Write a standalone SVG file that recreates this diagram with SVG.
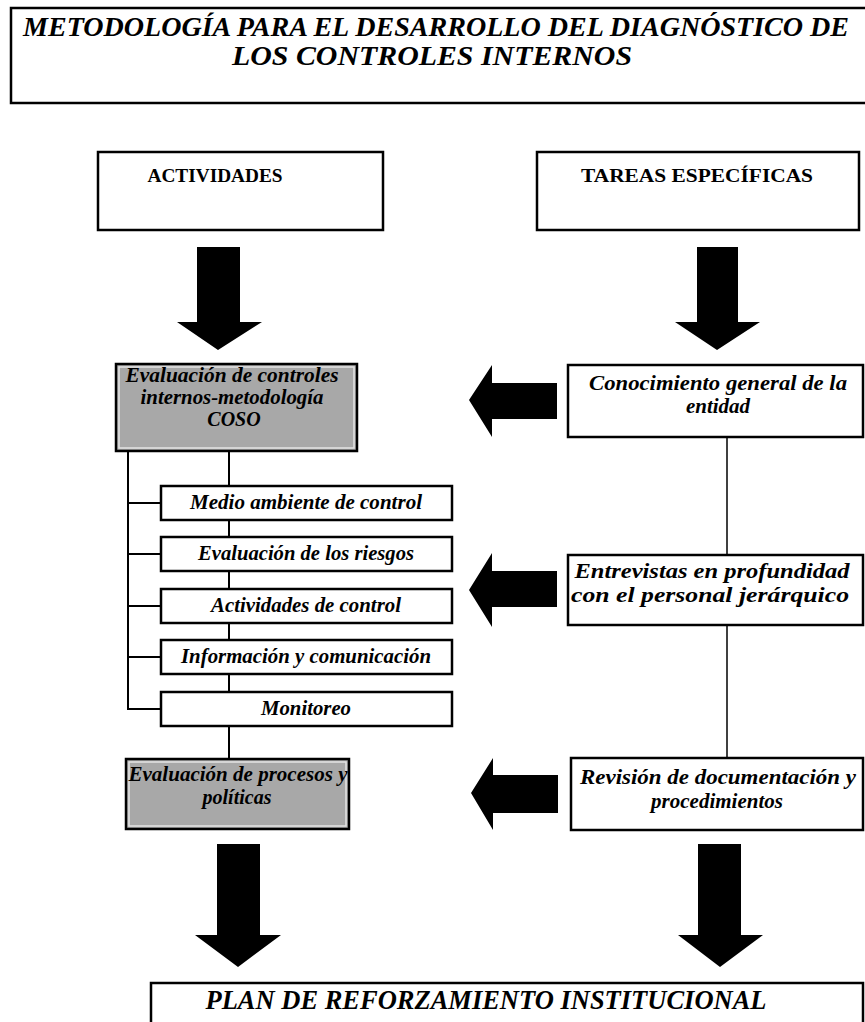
<svg xmlns="http://www.w3.org/2000/svg" width="865" height="1022" viewBox="0 0 865 1022">
<style>
.box{fill:#fff;stroke:#000;stroke-width:2.5}
.gray{fill:#a8a8a8;stroke:#000;stroke-width:2.5}
.inner{fill:none;stroke:#e4e4e4;stroke-width:1.5}
.t{font-family:"Liberation Serif","Times New Roman",serif;font-weight:bold;font-style:italic;font-size:20px;text-anchor:middle;fill:#000}
.h{font-style:normal;font-size:18px}
.big{font-size:28px}
.rt{font-size:21px}
.conn line{stroke:#000;stroke-width:2}
.conn line.thin{stroke-width:1.5}
.arrow{fill:#000}
</style>
<rect width="865" height="1022" fill="#fff"/>

<g id="title">
<rect class="box" x="11" y="8" width="870" height="95"/>
<text class="t big" x="436" y="36" textLength="826" lengthAdjust="spacingAndGlyphs">METODOLOGÍA PARA EL DESARROLLO DEL DIAGNÓSTICO DE</text>
<text class="t big" x="432" y="65" textLength="400" lengthAdjust="spacingAndGlyphs">LOS CONTROLES INTERNOS</text>
</g>

<g id="actividades">
<rect class="box" x="98" y="152" width="285" height="78"/>
<text class="t h" x="215" y="182" textLength="135" lengthAdjust="spacingAndGlyphs">ACTIVIDADES</text>
</g>

<g id="tareas">
<rect class="box" x="537" y="152" width="322" height="78"/>
<text class="t h" x="697" y="182" textLength="232" lengthAdjust="spacingAndGlyphs">TAREAS ESPECÍFICAS</text>
</g>

<g id="coso">
<rect class="gray" x="116" y="364" width="241" height="87"/>
<rect class="inner" x="119" y="367" width="235" height="81"/>
<text class="t" x="232" y="382" textLength="213" lengthAdjust="spacingAndGlyphs">Evaluación de controles</text>
<text class="t" x="232" y="404" textLength="183" lengthAdjust="spacingAndGlyphs">internos-metodología</text>
<text class="t" x="234" y="426">COSO</text>
</g>

<g id="medio">
<rect class="box" x="161" y="486" width="291" height="34"/>
<text class="t" x="306" y="509" textLength="232" lengthAdjust="spacingAndGlyphs">Medio ambiente de control</text>
</g>
<g id="riesgos">
<rect class="box" x="161" y="537" width="291" height="34"/>
<text class="t" x="306" y="560" textLength="216" lengthAdjust="spacingAndGlyphs">Evaluación de los riesgos</text>
</g>
<g id="actividades-control">
<rect class="box" x="161" y="589" width="291" height="34"/>
<text class="t" x="306" y="612" textLength="190" lengthAdjust="spacingAndGlyphs">Actividades de control</text>
</g>
<g id="informacion">
<rect class="box" x="161" y="640" width="291" height="34"/>
<text class="t" x="306" y="663" textLength="250" lengthAdjust="spacingAndGlyphs">Información y comunicación</text>
</g>
<g id="monitoreo">
<rect class="box" x="161" y="692" width="291" height="34"/>
<text class="t" x="306" y="715" textLength="90" lengthAdjust="spacingAndGlyphs">Monitoreo</text>
</g>

<g id="procesos">
<rect class="gray" x="126" y="759" width="223" height="70"/>
<rect class="inner" x="129" y="762" width="217" height="64"/>
<text class="t" x="238" y="781" textLength="219" lengthAdjust="spacingAndGlyphs">Evaluación de procesos y</text>
<text class="t" x="237" y="804">políticas</text>
</g>

<g id="conocimiento">
<rect class="box" x="568" y="365" width="295" height="72"/>
<text class="t rt" x="718" y="390" textLength="258" lengthAdjust="spacingAndGlyphs">Conocimiento general de la</text>
<text class="t rt" x="718" y="413">entidad</text>
</g>

<g id="entrevistas">
<rect class="box" x="568" y="555" width="295" height="70"/>
<text class="t rt" x="712" y="578" textLength="275" lengthAdjust="spacingAndGlyphs">Entrevistas en profundidad</text>
<text class="t rt" x="710" y="602" textLength="278" lengthAdjust="spacingAndGlyphs">con el personal jerárquico</text>
</g>

<g id="revision">
<rect class="box" x="571" y="758" width="292" height="72"/>
<text class="t rt" x="718" y="784" textLength="276" lengthAdjust="spacingAndGlyphs">Revisión de documentación y</text>
<text class="t rt" x="717" y="808">procedimientos</text>
</g>

<g id="plan">
<rect class="box" x="151" y="983" width="712" height="60"/>
<text class="t big" x="486" y="1009" textLength="561" lengthAdjust="spacingAndGlyphs">PLAN DE REFORZAMIENTO INSTITUCIONAL</text>
</g>

<g id="connectors" class="conn">
<polyline points="128,451 128,709 161,709" fill="none" stroke="#000" stroke-width="2"/>
<line x1="128" y1="503" x2="161" y2="503"/>
<line x1="128" y1="554" x2="161" y2="554"/>
<line x1="128" y1="606" x2="161" y2="606"/>
<line x1="128" y1="657" x2="161" y2="657"/>
<line x1="229" y1="451" x2="229" y2="486"/>
<line x1="229" y1="520" x2="229" y2="537"/>
<line x1="229" y1="571" x2="229" y2="589"/>
<line x1="229" y1="623" x2="229" y2="640"/>
<line x1="229" y1="674" x2="229" y2="692"/>
<line x1="229" y1="726" x2="229" y2="759"/>
<line class="thin" x1="727" y1="437" x2="727" y2="555"/>
<line class="thin" x1="727" y1="625" x2="727" y2="758"/>
<polygon class="arrow" points="197,247 240,247 240,322 262,322 218,350 177,322 197,322"/>
<polygon class="arrow" points="697,247 738,247 738,322 760,322 717,350 675,322 697,322"/>
<polygon class="arrow" points="217,844 260,844 260,935 281,935 238,967 195,935 217,935"/>
<polygon class="arrow" points="698,844 741,844 741,935 763,935 720,967 678,935 698,935"/>
<polygon class="arrow" points="557,383 557,419 492,419 492,437 469,400 492,365 492,383"/>
<polygon class="arrow" points="557,571 557,607 492,607 492,627 469,590 492,553 492,571"/>
<polygon class="arrow" points="558,775 558,813 493,813 493,830 471,793 493,758 493,775"/>
</g>
</svg>
